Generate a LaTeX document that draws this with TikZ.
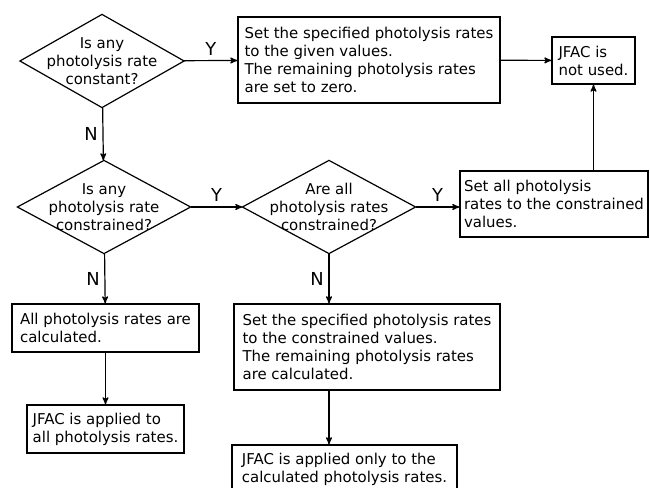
\documentclass[tikz,border=0pt]{standalone}
\usepackage{fontspec}
\setmainfont{DejaVu Sans}
\usepackage{tikz}
\usetikzlibrary{shapes,arrows,shapes.geometric,positioning}

\begin{document}
\begin{tikzpicture}[x=0.75pt,y=-0.75pt,>=stealth',line width=0.9pt,
    font=\fontsize{11.2}{13.5}\selectfont,
    decision/.style={align=center,inner sep=0pt,
      minimum width=#1*0.75pt,minimum height=69pt,
      append after command={\pgfextra{\draw[-] (\tikzlastnode.north)
        -- (\tikzlastnode.east) -- (\tikzlastnode.south)
        -- (\tikzlastnode.west) -- cycle;}}},
    action/.style={draw,align=left,inner sep=0pt},
    yn/.style={font=\fontsize{13.4}{16}\selectfont,inner sep=3.5pt}]
    \useasboundingbox (0,0) rectangle (650,488);

    \node[decision=163] (q1) at (102,61)
      {Is any\\photolysis rate\\constant?};
    \node[decision=172] (q2) at (104,207)
      {Is any\\photolysis rate\\constrained?};
    \node[decision=172] (q3) at (329,207)
      {Are all\\photolysis rates\\constrained?};

    \node[action,minimum width=196.5pt,minimum height=64.5pt] (given) at (369,60)
      {Set the specified photolysis rates\\to the given values.\\The remaining photolysis rates\\are set to zero.};
    \node[action,minimum width=62.25pt,minimum height=35.25pt] (unused) at (593.5,60.5)
      {JFAC is\\not used.};
    \node[action,minimum width=141pt,minimum height=49.5pt] (allcons) at (554,204)
      {Set all photolysis\\rates to the constrained\\values.};
    \node[action,minimum width=140.25pt,minimum height=36pt] (allcalc) at (105.5,328)
      {All photolysis rates are\\calculated.};
    \node[action,minimum width=117.75pt,minimum height=36pt] (jall) at (105.5,429)
      {JFAC is applied to\\all photolysis rates.};
    \node[action,minimum width=199.5pt,minimum height=64.5pt] (somecons) at (367,347)
      {Set the specified photolysis rates\\to the constrained values.\\The remaining photolysis rates\\are calculated.};
    \node[action,minimum width=168.75pt,minimum height=36pt] (jcalc) at (344.5,469)
      {JFAC is applied only to the\\calculated photolysis rates.};

    \path[->]
      (q1) edge node[yn,above] {Y} (given)
      (given) edge (unused)
      (q1) edge node[yn,left] {N} (q2)
      (q2) edge node[yn,above] {Y} (q3)
      (q3.east) edge node[yn,above] {Y} (q3.east -| allcons.west)
      (unused.south |- allcons.north) edge (unused.south)
      (q2) edge node[yn,left] {N} (allcalc)
      (allcalc) edge (jall)
      (q3.south) edge node[yn,left] {N} (q3.south |- somecons.north)
      (q3.south |- somecons.south) edge (q3.south |- jcalc.north);
  \end{tikzpicture}
\end{document}
